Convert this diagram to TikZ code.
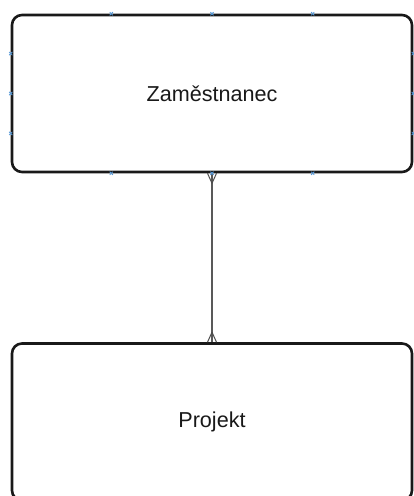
\documentclass[tikz,border=0pt]{standalone}
\usepackage{fontspec}
\setmainfont{Liberation Sans}
\usetikzlibrary{calc}
\tikzset{
  entity/.style={draw=black!90, line width=2.6pt, rounded corners=10pt, minimum width=400pt, minimum height=157pt, inner sep=0pt, font=\fontsize{21.6pt}{26pt}\selectfont, text=black!90},
  rel/.style={draw=black!65, line width=1.2pt},
  foot/.style={draw=black!70, line width=1pt},
  xmark/.pic={\draw[draw=cyan!60!blue!70, line width=0.8pt] (-1.6pt,-1.6pt) -- (1.6pt,1.6pt) (-1.6pt,1.6pt) -- (1.6pt,-1.6pt);}
}
\begin{document}
\begin{tikzpicture}[x=1pt,y=-1pt]
\useasboundingbox (0,0) rectangle (414,496);
\node[entity] (z) at (212,93.5) {Zaměstnanec};
\node[entity] (p) at (212,422) {Projekt};
% connector
\draw[rel] (z.south) -- (p.north);
% crow's feet
\draw[foot] ($(z.south)+(0,10)$) -- ($(z.south)+(-4.5,0)$);
\draw[foot] ($(z.south)+(0,10)$) -- ($(z.south)+(4.5,0)$);
\draw[foot] ($(p.north)+(0,-10)$) -- ($(p.north)+(-4.5,0)$);
\draw[foot] ($(p.north)+(0,-10)$) -- ($(p.north)+(4.5,0)$);
% connection point markers
\foreach \t in {0.25,0.5,0.75}{
  \pic at ($(z.north west)!\t!(z.north east)$) {xmark};
  \pic at ($(z.south west)!\t!(z.south east)$) {xmark};
  \pic at ($(z.north west)!\t!(z.south west)$) {xmark};
  \pic at ($(z.north east)!\t!(z.south east)$) {xmark};
}
\end{tikzpicture}
\end{document}
